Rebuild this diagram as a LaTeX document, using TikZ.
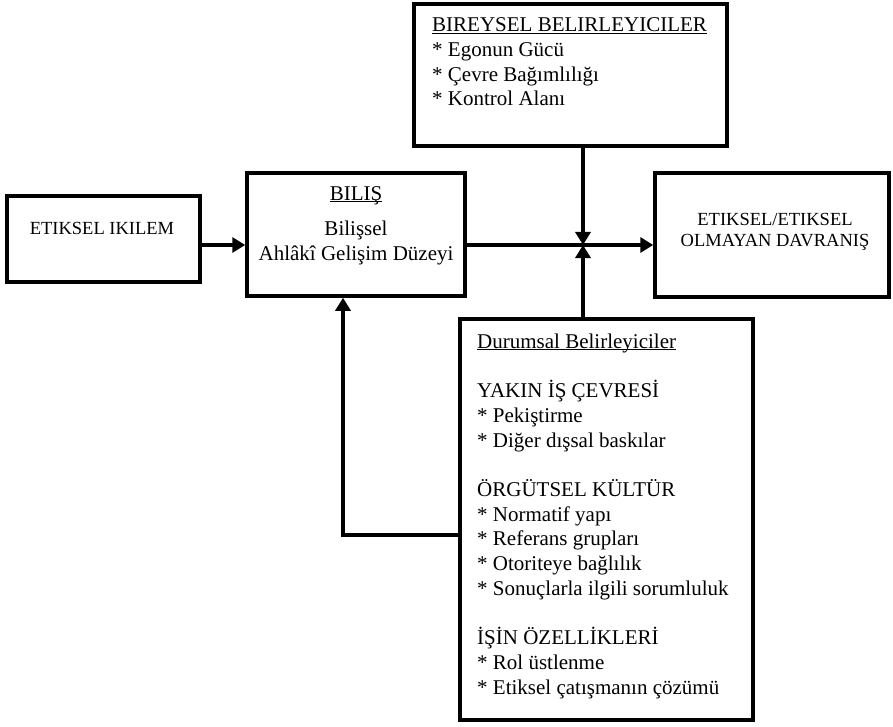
\documentclass[tikz,border=0pt]{standalone}
\usepackage{fontspec}
\setmainfont{Liberation Serif}
\usetikzlibrary{arrows.meta}

% underline that runs through descenders, as in the scan
\newcommand{\titleline}[1]{\setbox0\hbox{#1}\rlap{\rule[-2.2pt]{\wd0}{1pt}}\box0}

\begin{document}
\begin{tikzpicture}[x=1pt,y=-1pt,
        box/.style={draw,line width=3.5pt,inner sep=0pt},
        link/.style={line width=3.5pt},
        linkto/.style={link,-{Triangle[length=13pt,width=15pt]}},
        bigtext/.style={inner sep=0pt,font=\fontsize{21}{24.7}\selectfont},
        smalltext/.style={inner sep=0pt,font=\fontsize{18.5}{21.5}\selectfont}]

        \useasboundingbox (0,0) rectangle (893,727);

        % Boxes
        \node [box,minimum width=193pt,minimum height=86pt] (ikilem) at (103.5,239) {};
        \node [box,minimum width=218pt,minimum height=123pt] (bilis) at (356,234.5) {};
        \node [box,minimum width=313pt,minimum height=142pt] (bireysel) at (570.5,75) {};
        \node [box,minimum width=234pt,minimum height=124pt] (davranis) at (772,235) {};
        \node [box,minimum width=293pt,minimum height=401pt] (durumsal) at (606.5,519.5) {};

        % Box texts
        \node [smalltext,anchor=base] (ikilemtxt) at (102,234) {ETIKSEL IKILEM};
        \node [bigtext,align=center,anchor=north] (bilistxt) at (356,186)
            {\titleline{BILIŞ}\\[11pt]Bilişsel\\Ahlâkî Gelişim Düzeyi};
        \node [bigtext,align=left,anchor=north west] (bireyseltxt) at (432,17.5)
            {\titleline{BIREYSEL BELIRLEYICILER}\\ {*} Egonun Gücü\\
             {*} Çevre Bağımlılığı\\ {*} Kontrol Alanı};
        \node [smalltext,align=center,anchor=north] (davranistxt) at (775,213)
            {ETIKSEL/ETIKSEL\\OLMAYAN DAVRANIŞ};
        \node [bigtext,align=left,anchor=north west] (durumsaltxt) at (477,333.5)
            {\titleline{Durumsal Belirleyiciler}\\[24.7pt]
             YAKIN İŞ ÇEVRESİ\\ {*} Pekiştirme\\ {*} Diğer dışsal baskılar\\[24.7pt]
             ÖRGÜTSEL KÜLTÜR\\ {*} Normatif yapı\\ {*} Referans grupları\\
             {*} Otoriteye bağlılık\\ {*} Sonuçlarla ilgili sorumluluk\\[24.7pt]
             İŞİN ÖZELLİKLERİ\\ {*} Rol üstlenme\\ {*} Etiksel çatışmanın çözümü};

        % Junction and feedback corner
        \coordinate (jn) at (583,245);
        \coordinate (fb) at (343,535);

        % Connectors
        \draw [linkto] (ikilem.east |- jn) -- (bilis.west |- jn);
        \draw [linkto] (bilis.east |- jn) -- (davranis.west |- jn);
        \draw [linkto] (bireysel.south -| jn) -- (jn);
        \draw [linkto] (durumsal.north -| jn) -- (jn);
        \draw [linkto] (durumsal.west |- fb) -- (fb) -- (bilis.south -| fb);

\end{tikzpicture}
\end{document}
